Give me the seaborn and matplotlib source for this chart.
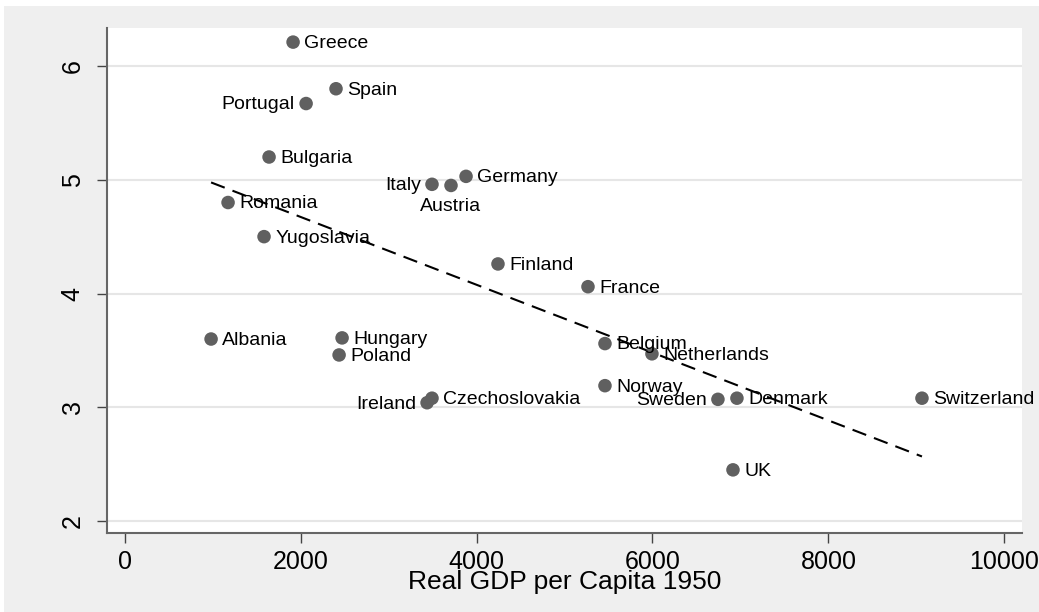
import numpy as np
import pandas as pd
import matplotlib
matplotlib.use("Agg")
import matplotlib.pyplot as plt
from matplotlib.patches import Rectangle
import seaborn as sns

countries = ["Greece", "Spain", "Portugal", "Bulgaria", "Romania", "Yugoslavia",
             "Italy", "Austria", "Germany", "Finland", "France", "Albania",
             "Hungary", "Poland", "Belgium", "Netherlands", "Norway", "Ireland",
             "Czechoslovakia", "Sweden", "Denmark", "Switzerland", "UK"]
gdp1950 = [1915, 2403, 2063, 1642, 1176, 1585,
           3494, 3710, 3881, 4244, 5267, 983,
           2472, 2438, 5460, 5994, 5460, 3438,
           3494, 6744, 6960, 9063, 6915]
growth = [6.21, 5.80, 5.67, 5.20, 4.80, 4.50,
          4.96, 4.95, 5.03, 4.26, 4.06, 3.60,
          3.61, 3.46, 3.56, 3.47, 3.19, 3.04,
          3.08, 3.07, 3.08, 3.08, 2.45]
label_pos = ["r", "r", "l", "r", "r", "r",
             "l", "b", "r", "r", "r", "r",
             "r", "r", "r", "r", "r", "l",
             "r", "l", "r", "r", "r"]
xticks = [0, 2000, 4000, 6000, 8000, 10000]
yticks = [2, 3, 4, 5, 6]

df = pd.DataFrame({"country": countries, "gdp": gdp1950, "growth": growth, "pos": label_pos})

sns.set_theme(style="white")
plt.rcParams["font.family"] = ["Liberation Sans", "DejaVu Sans"]

W, H = 1039, 612
fig = plt.figure(figsize=(W / 100, H / 100), dpi=100)
fig.patch.set_facecolor("white")
fig.patches.append(Rectangle((4 / W, 0), 1, (H - 6) / H, transform=fig.transFigure,
                             facecolor="#efefef", edgecolor="none", zorder=-10))

ax = fig.add_axes([107 / W, (H - 533) / H, (1022 - 107) / W, (533 - 28) / H])
ax.set_facecolor("white")

sns.regplot(data=df, x="gdp", y="growth", scatter=False, ci=None, ax=ax,
            line_kws=dict(color="black", lw=1.5, linestyle=(0, (7, 4)), zorder=2))
sns.scatterplot(data=df, x="gdp", y="growth", ax=ax, color="#606060", s=95,
                edgecolor="none", zorder=3)

for _, r in df.iterrows():
    if r.pos == "r":
        ax.annotate(r.country, (r.gdp, r.growth), xytext=(8, -1), textcoords="offset points",
                    ha="left", va="center", fontsize=14, color="black", zorder=4)
    elif r.pos == "l":
        ax.annotate(r.country, (r.gdp, r.growth), xytext=(-8, -1), textcoords="offset points",
                    ha="right", va="center", fontsize=14, color="black", zorder=4)
    else:
        ax.annotate(r.country, (r.gdp, r.growth), xytext=(0, -15), textcoords="offset points",
                    ha="center", va="center", fontsize=14, color="black", zorder=4)

ax.set_xlim(-200, 10200)
ax.set_ylim(1.895, 6.334)
ax.set_xticks(xticks)
ax.set_yticks(yticks)
ax.set_xticklabels([str(v) for v in xticks], fontsize=18)
ax.set_yticklabels([str(v) for v in yticks], fontsize=18, rotation=90, va="center")
ax.grid(axis="y", color="#e6e6e6", lw=1.5)
ax.grid(axis="x", visible=False)
ax.set_axisbelow(True)
for s in ["top", "right"]:
    ax.spines[s].set_visible(False)
for s in ["left", "bottom"]:
    ax.spines[s].set_color("#666666")
    ax.spines[s].set_linewidth(1.5)
ax.tick_params(axis="x", which="major", length=7, width=1, color="#444444",
               bottom=True, pad=5, labelcolor="black")
ax.tick_params(axis="y", which="major", length=7, width=1, color="#444444",
               left=True, pad=9, labelcolor="black")
ax.set_xlabel("Real GDP per Capita 1950", fontsize=19, color="black")
ax.xaxis.set_label_coords(0.5, -(589 - 533) / (533 - 28))
ax.xaxis.label.set_va("baseline")
ax.set_ylabel("")

fig.savefig("out.png", dpi=100, facecolor=fig.get_facecolor())
